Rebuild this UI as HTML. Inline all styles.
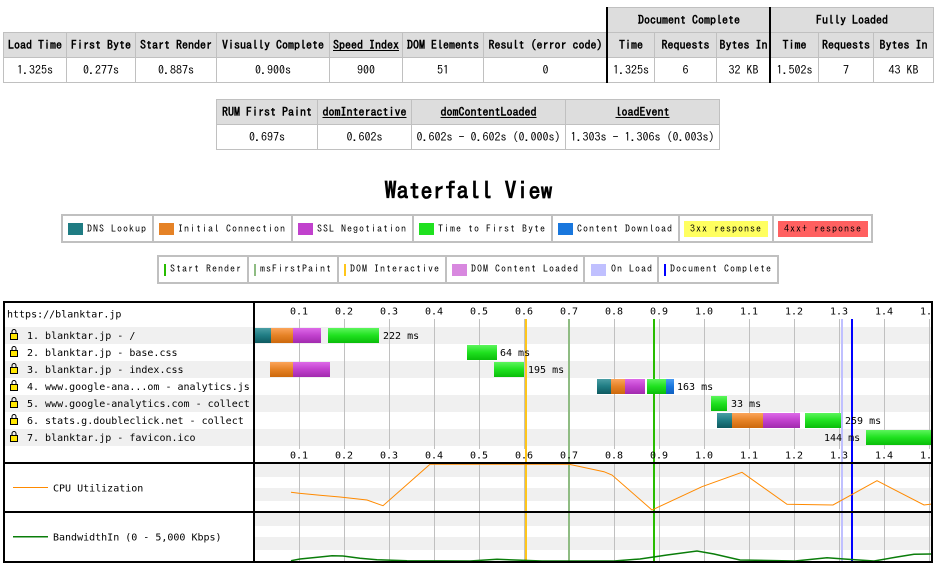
<!DOCTYPE html>
<html><head><meta charset="utf-8">
<style>
body{margin:0;width:937px;height:563px;position:relative;overflow:hidden;background:#fff;font-family:"IPAGothic","Liberation Mono",monospace;color:#000}
.c{position:absolute;box-sizing:border-box;border:1px solid #c0c0c0;display:flex;align-items:center;justify-content:center;font-size:12px;white-space:nowrap;background:#fff}
.h{background:#dddddd;font-weight:bold}
.u{text-decoration:underline}
.blk{position:absolute;background:#000}
.lg{position:absolute;box-sizing:border-box;border:2px solid #c0c0c0}
.sep{position:absolute;background:#c0c0c0;width:2px}
.sw{position:absolute;width:15px;height:12px}
.bar{position:absolute;width:2px;height:12px}
.t{position:absolute;font-size:10px;letter-spacing:1px;line-height:12px;white-space:nowrap}
.title{position:absolute;left:0;width:937px;top:176px;text-align:center;font-size:24px;font-weight:bold;line-height:28px}
</style></head><body>

<!-- Top table -->
<div class="c h" style="left:607px;top:7px;width:164px;height:26px">Document Complete</div>
<div class="c h" style="left:770px;top:7px;width:164px;height:26px">Fully Loaded</div>

<div class="c h" style="left:3px;top:32px;width:64px;height:26px">Load Time</div>
<div class="c h" style="left:66px;top:32px;width:70px;height:26px">First Byte</div>
<div class="c h" style="left:135px;top:32px;width:82px;height:26px">Start Render</div>
<div class="c h" style="left:216px;top:32px;width:114px;height:26px">Visually Complete</div>
<div class="c h" style="left:329px;top:32px;width:74px;height:26px"><span class="u">Speed Index</span></div>
<div class="c h" style="left:402px;top:32px;width:82px;height:26px">DOM Elements</div>
<div class="c h" style="left:483px;top:32px;width:125px;height:26px">Result (error code)</div>
<div class="c h" style="left:607px;top:32px;width:48px;height:26px">Time</div>
<div class="c h" style="left:654px;top:32px;width:63px;height:26px">Requests</div>
<div class="c h" style="left:716px;top:32px;width:55px;height:26px">Bytes In</div>
<div class="c h" style="left:770px;top:32px;width:49px;height:26px">Time</div>
<div class="c h" style="left:818px;top:32px;width:56px;height:26px">Requests</div>
<div class="c h" style="left:873px;top:32px;width:61px;height:26px">Bytes In</div>

<div class="c" style="left:3px;top:57px;width:64px;height:26px">1.325s</div>
<div class="c" style="left:66px;top:57px;width:70px;height:26px">0.277s</div>
<div class="c" style="left:135px;top:57px;width:82px;height:26px">0.887s</div>
<div class="c" style="left:216px;top:57px;width:114px;height:26px">0.900s</div>
<div class="c" style="left:329px;top:57px;width:74px;height:26px">900</div>
<div class="c" style="left:402px;top:57px;width:82px;height:26px">51</div>
<div class="c" style="left:483px;top:57px;width:125px;height:26px">0</div>
<div class="c" style="left:607px;top:57px;width:48px;height:26px">1.325s</div>
<div class="c" style="left:654px;top:57px;width:63px;height:26px">6</div>
<div class="c" style="left:716px;top:57px;width:55px;height:26px">32 KB</div>
<div class="c" style="left:770px;top:57px;width:49px;height:26px">1.502s</div>
<div class="c" style="left:818px;top:57px;width:56px;height:26px">7</div>
<div class="c" style="left:873px;top:57px;width:61px;height:26px">43 KB</div>

<div class="blk" style="left:606px;top:7px;width:2px;height:76px"></div>
<div class="blk" style="left:769px;top:7px;width:2px;height:76px"></div>

<!-- Second table -->
<div class="c h" style="left:216px;top:99px;width:102px;height:26px">RUM First Paint</div>
<div class="c h" style="left:317px;top:99px;width:95px;height:26px"><span class="u">domInteractive</span></div>
<div class="c h" style="left:411px;top:99px;width:155px;height:26px"><span class="u">domContentLoaded</span></div>
<div class="c h" style="left:565px;top:99px;width:155px;height:26px"><span class="u">loadEvent</span></div>
<div class="c" style="left:216px;top:124px;width:102px;height:26px">0.697s</div>
<div class="c" style="left:317px;top:124px;width:95px;height:26px">0.602s</div>
<div class="c" style="left:411px;top:124px;width:155px;height:26px">0.602s - 0.602s (0.000s)</div>
<div class="c" style="left:565px;top:124px;width:155px;height:26px">1.303s - 1.306s (0.003s)</div>

<div class="title">Waterfall View</div>

<!-- Legend 1 -->
<div class="lg" style="left:61px;top:214px;width:812px;height:29px"></div>
<div class="sep" style="left:152px;top:214px;height:29px"></div>
<div class="sep" style="left:291px;top:214px;height:29px"></div>
<div class="sep" style="left:412px;top:214px;height:29px"></div>
<div class="sep" style="left:551px;top:214px;height:29px"></div>
<div class="sep" style="left:678px;top:214px;height:29px"></div>
<div class="sep" style="left:772px;top:214px;height:29px"></div>
<div class="sw" style="left:68px;top:223px;background:#1f7c83"></div>
<div class="t" style="left:87px;top:223px">DNS Lookup</div>
<div class="sw" style="left:159px;top:223px;background:#e58226"></div>
<div class="t" style="left:178px;top:223px">Initial Connection</div>
<div class="sw" style="left:298px;top:223px;background:#c141cd"></div>
<div class="t" style="left:317px;top:223px">SSL Negotiation</div>
<div class="sw" style="left:419px;top:223px;background:#1fe11f"></div>
<div class="t" style="left:438px;top:223px">Time to First Byte</div>
<div class="sw" style="left:558px;top:223px;background:#1977dd"></div>
<div class="t" style="left:577px;top:223px">Content Download</div>
<div class="t" style="left:684px;top:221px;width:84px;height:16px;line-height:16px;background:#ffff60;text-align:center">3xx response</div>
<div class="t" style="left:778px;top:221px;width:90px;height:16px;line-height:16px;background:#ff6060;text-align:center">4xx+ response</div>

<!-- Legend 2 -->
<div class="lg" style="left:157px;top:255px;width:622px;height:29px"></div>
<div class="sep" style="left:247px;top:255px;height:29px"></div>
<div class="sep" style="left:337px;top:255px;height:29px"></div>
<div class="sep" style="left:445px;top:255px;height:29px"></div>
<div class="sep" style="left:583px;top:255px;height:29px"></div>
<div class="sep" style="left:657px;top:255px;height:29px"></div>
<div class="bar" style="left:164px;top:264px;background:#28bc00"></div>
<div class="t" style="left:170px;top:263px">Start Render</div>
<div class="bar" style="left:254px;top:264px;background:#8fbc83"></div>
<div class="t" style="left:260px;top:263px">msFirstPaint</div>
<div class="bar" style="left:344px;top:264px;background:#ffc61a"></div>
<div class="t" style="left:350px;top:263px">DOM Interactive</div>
<div class="sw" style="left:452px;top:264px;background:#d888df"></div>
<div class="t" style="left:471px;top:263px">DOM Content Loaded</div>
<div class="sw" style="left:591px;top:264px;background:#c0c0ff"></div>
<div class="t" style="left:611px;top:263px">On Load</div>
<div class="bar" style="left:664px;top:264px;background:#0000ff"></div>
<div class="t" style="left:670px;top:263px">Document Complete</div>

<!-- Waterfall -->
<svg width="937" height="563" style="position:absolute;left:0;top:0" font-family="DejaVu Sans Mono, Liberation Mono, monospace" font-size="10">
<defs>
<linearGradient id="gT" x1="0" y1="0" x2="0" y2="1"><stop offset="0" stop-color="#4a9ea4"/><stop offset="0.5" stop-color="#1f7c83"/><stop offset="1" stop-color="#0f5a60"/></linearGradient>
<linearGradient id="gO" x1="0" y1="0" x2="0" y2="1"><stop offset="0" stop-color="#fba55a"/><stop offset="0.5" stop-color="#e58226"/><stop offset="1" stop-color="#cc680c"/></linearGradient>
<linearGradient id="gM" x1="0" y1="0" x2="0" y2="1"><stop offset="0" stop-color="#dd6ae8"/><stop offset="0.5" stop-color="#c141cd"/><stop offset="1" stop-color="#a12aae"/></linearGradient>
<linearGradient id="gG" x1="0" y1="0" x2="0" y2="1"><stop offset="0" stop-color="#5cf55c"/><stop offset="0.5" stop-color="#1fe11f"/><stop offset="1" stop-color="#0abd0a"/></linearGradient>
<linearGradient id="gB" x1="0" y1="0" x2="0" y2="1"><stop offset="0" stop-color="#4a9cf2"/><stop offset="0.5" stop-color="#1977dd"/><stop offset="1" stop-color="#0f5fc0"/></linearGradient>
<clipPath id="cp"><rect x="0" y="295" width="931" height="268"/></clipPath>
</defs>
<g clip-path="url(#cp)">
<!-- stripes -->
<g fill="#f0f0f0">
<rect x="5" y="327" width="926" height="17"/>
<rect x="5" y="361" width="926" height="17"/>
<rect x="5" y="395" width="926" height="17"/>
<rect x="5" y="429" width="926" height="17"/>
<rect x="255" y="464" width="676" height="13"/>
<rect x="255" y="488" width="676" height="13"/>
<rect x="255" y="513" width="676" height="13"/>
<rect x="255" y="537" width="676" height="13"/>
</g>
<!-- grid -->
<g fill="#c0c0c0">
<rect x="299" y="319" width="1" height="130"/><rect x="344" y="319" width="1" height="130"/><rect x="389" y="319" width="1" height="130"/><rect x="434" y="319" width="1" height="130"/><rect x="479" y="319" width="1" height="130"/><rect x="524" y="319" width="1" height="130"/><rect x="569" y="319" width="1" height="130"/><rect x="614" y="319" width="1" height="130"/><rect x="659" y="319" width="1" height="130"/><rect x="704" y="319" width="1" height="130"/><rect x="749" y="319" width="1" height="130"/><rect x="794" y="319" width="1" height="130"/><rect x="839" y="319" width="1" height="130"/><rect x="884" y="319" width="1" height="130"/><rect x="929" y="319" width="1" height="130"/>
<rect x="299" y="463" width="1" height="99"/><rect x="344" y="463" width="1" height="99"/><rect x="389" y="463" width="1" height="99"/><rect x="434" y="463" width="1" height="99"/><rect x="479" y="463" width="1" height="99"/><rect x="524" y="463" width="1" height="99"/><rect x="569" y="463" width="1" height="99"/><rect x="614" y="463" width="1" height="99"/><rect x="659" y="463" width="1" height="99"/><rect x="704" y="463" width="1" height="99"/><rect x="749" y="463" width="1" height="99"/><rect x="794" y="463" width="1" height="99"/><rect x="839" y="463" width="1" height="99"/><rect x="884" y="463" width="1" height="99"/><rect x="929" y="463" width="1" height="99"/>
</g>
<!-- event lines -->
<rect x="525" y="319" width="2" height="243" fill="#ffc61a"/>
<rect x="568" y="319" width="2" height="243" fill="#8fbc83"/>
<rect x="653" y="319" width="2" height="243" fill="#28bc00"/>
<rect x="841" y="319" width="2" height="243" fill="#c0c0ff"/>
<rect x="851" y="319" width="2" height="243" fill="#0000ff"/>
<!-- bars -->
<rect x="255" y="328" width="16" height="15" fill="url(#gT)"/>
<rect x="271" y="328" width="22" height="15" fill="url(#gO)"/>
<rect x="293" y="328" width="28" height="15" fill="url(#gM)"/>
<rect x="328" y="328" width="51" height="15" fill="url(#gG)"/>
<rect x="467" y="345" width="30" height="15" fill="url(#gG)"/>
<rect x="270" y="362" width="23" height="15" fill="url(#gO)"/>
<rect x="293" y="362" width="37" height="15" fill="url(#gM)"/>
<rect x="494" y="362" width="30" height="15" fill="url(#gG)"/>
<rect x="597" y="379" width="14" height="15" fill="url(#gT)"/>
<rect x="611" y="379" width="14" height="15" fill="url(#gO)"/>
<rect x="625" y="379" width="20" height="15" fill="url(#gM)"/>
<rect x="647" y="379" width="19" height="15" fill="url(#gG)"/>
<rect x="666" y="379" width="8" height="15" fill="url(#gB)"/>
<rect x="711" y="396" width="16" height="15" fill="url(#gG)"/>
<rect x="717" y="413" width="15" height="15" fill="url(#gT)"/>
<rect x="732" y="413" width="31" height="15" fill="url(#gO)"/>
<rect x="763" y="413" width="37" height="15" fill="url(#gM)"/>
<rect x="805" y="413" width="36" height="15" fill="url(#gG)"/>
<rect x="866" y="430" width="65" height="15" fill="url(#gG)"/>
<!-- bar labels -->
<g fill="#000">
<text x="383" y="339">222 ms</text>
<text x="500" y="356">64 ms</text>
<text x="528" y="373">195 ms</text>
<text x="677" y="390">163 ms</text>
<text x="731" y="407">33 ms</text>
<text x="845" y="424">259 ms</text>
<text x="824" y="441">144 ms</text>
</g>
<!-- tick labels -->
<g fill="#000" text-anchor="middle">
<text x="299" y="314.5">0.1</text><text x="344" y="314.5">0.2</text><text x="389" y="314.5">0.3</text><text x="434" y="314.5">0.4</text><text x="479" y="314.5">0.5</text><text x="524" y="314.5">0.6</text><text x="569" y="314.5">0.7</text><text x="614" y="314.5">0.8</text><text x="659" y="314.5">0.9</text><text x="704" y="314.5">1.0</text><text x="749" y="314.5">1.1</text><text x="794" y="314.5">1.2</text><text x="839" y="314.5">1.3</text><text x="884" y="314.5">1.4</text><text x="929" y="314.5">1.5</text>
<text x="299" y="458.5">0.1</text><text x="344" y="458.5">0.2</text><text x="389" y="458.5">0.3</text><text x="434" y="458.5">0.4</text><text x="479" y="458.5">0.5</text><text x="524" y="458.5">0.6</text><text x="569" y="458.5">0.7</text><text x="614" y="458.5">0.8</text><text x="659" y="458.5">0.9</text><text x="704" y="458.5">1.0</text><text x="749" y="458.5">1.1</text><text x="794" y="458.5">1.2</text><text x="839" y="458.5">1.3</text><text x="884" y="458.5">1.4</text><text x="929" y="458.5">1.5</text>
</g>
<!-- CPU & bandwidth -->
<polyline fill="none" stroke="#ff8a00" stroke-width="1" points="291,492.3 299,493.3 320,495.3 340,497 367,500 383,505.7 430,464.3 569,464.3 604,471.7 612,475 652,510 702,486.7 742,472.3 787,504.3 833,505 877,480.7 924,505 932,504"/>
<polyline fill="none" stroke="#0a7d0a" stroke-width="1.5" points="291,560.7 300,559 320,557 332,555.7 343,556 360,558.3 377,559.7 407,560.7 470,561 497,559.3 542,561 614,561 640,559 667,555 697,551 714,554 740,560 795,561 827,557.7 844,559 874,561 897,557 914,554.3 932,554"/>
</g>
<!-- row labels -->
<g fill="#000">
<text x="7" y="317.5">https://blanktar.jp</text>
<text x="27" y="339">1. blanktar.jp - /</text>
<text x="27" y="356">2. blanktar.jp - base.css</text>
<text x="27" y="373">3. blanktar.jp - index.css</text>
<text x="27" y="390">4. www.google-ana...om - analytics.js</text>
<text x="27" y="407">5. www.google-analytics.com - collect</text>
<text x="27" y="424">6. stats.g.doubleclick.net - collect</text>
<text x="27" y="441">7. blanktar.jp - favicon.ico</text>
<text x="53" y="491.5">CPU Utilization</text>
<text x="53" y="540.5">BandwidthIn (0 - 5,000 Kbps)</text>
</g>
<rect x="13" y="487" width="35" height="1" fill="#ff8a00"/>
<rect x="13" y="536" width="35" height="1.5" fill="#0a7d0a"/>
<!-- locks -->
<g stroke="#000" stroke-width="1">
<g transform="translate(0,327)"><path d="M12 6.5V4.5a2 2 0 0 1 4 0V6.5" fill="none"/><rect x="10.5" y="6.5" width="7" height="6" fill="#ffe600"/></g>
<g transform="translate(0,344)"><path d="M12 6.5V4.5a2 2 0 0 1 4 0V6.5" fill="none"/><rect x="10.5" y="6.5" width="7" height="6" fill="#ffe600"/></g>
<g transform="translate(0,361)"><path d="M12 6.5V4.5a2 2 0 0 1 4 0V6.5" fill="none"/><rect x="10.5" y="6.5" width="7" height="6" fill="#ffe600"/></g>
<g transform="translate(0,378)"><path d="M12 6.5V4.5a2 2 0 0 1 4 0V6.5" fill="none"/><rect x="10.5" y="6.5" width="7" height="6" fill="#ffe600"/></g>
<g transform="translate(0,395)"><path d="M12 6.5V4.5a2 2 0 0 1 4 0V6.5" fill="none"/><rect x="10.5" y="6.5" width="7" height="6" fill="#ffe600"/></g>
<g transform="translate(0,412)"><path d="M12 6.5V4.5a2 2 0 0 1 4 0V6.5" fill="none"/><rect x="10.5" y="6.5" width="7" height="6" fill="#ffe600"/></g>
<g transform="translate(0,429)"><path d="M12 6.5V4.5a2 2 0 0 1 4 0V6.5" fill="none"/><rect x="10.5" y="6.5" width="7" height="6" fill="#ffe600"/></g>
</g>
<!-- borders -->
<g fill="#000">
<rect x="3" y="301" width="930" height="2"/>
<rect x="3" y="301" width="2" height="262"/>
<rect x="931" y="301" width="2" height="262"/>
<rect x="253" y="301" width="2" height="262"/>
<rect x="3" y="462" width="930" height="2"/>
<rect x="3" y="511" width="930" height="2"/>
<rect x="3" y="561" width="930" height="2"/>
</g>
</svg>
</body></html>
